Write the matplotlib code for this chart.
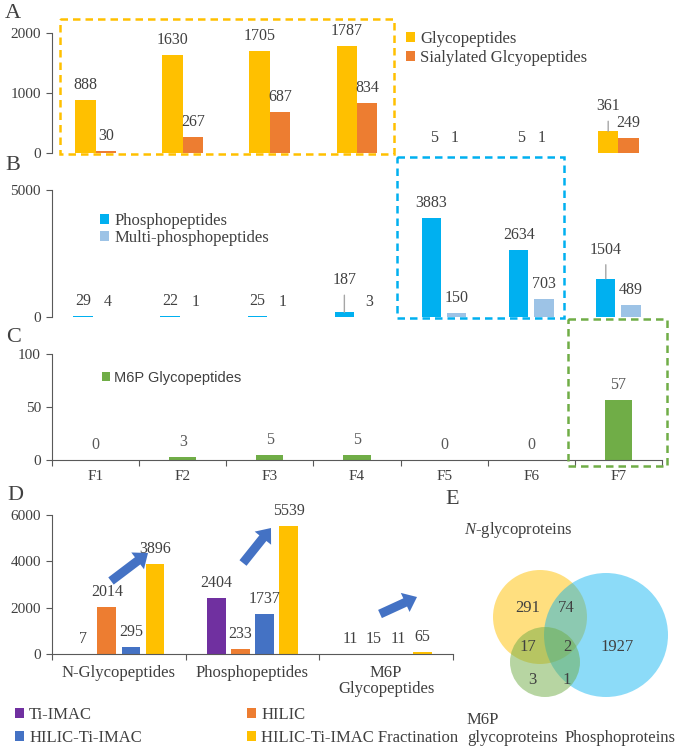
import matplotlib
matplotlib.use("Agg")
import matplotlib.pyplot as plt
import numpy as np
from matplotlib.patches import Rectangle, Circle, FancyArrow

plt.rcParams['font.family'] = ['Liberation Serif', 'DejaVu Serif']
plt.rcParams['mathtext.fontset'] = 'custom'
plt.rcParams['mathtext.rm'] = 'Liberation Serif'
plt.rcParams['mathtext.it'] = 'Liberation Serif:italic'

# ---------------- data ----------------
fractions = ["F1", "F2", "F3", "F4", "F5", "F6", "F7"]
glycopeptides = [888, 1630, 1705, 1787, 5, 5, 361]
sialylated = [30, 267, 687, 834, 1, 1, 249]
phosphopeptides = [29, 22, 25, 187, 3883, 2634, 1504]
multi_phospho = [4, 1, 1, 3, 150, 703, 489]
m6p_glyco = [0, 3, 5, 5, 0, 0, 57]

d_categories = ["N-Glycopeptides", "Phosphopeptides", "M6P\nGlycopeptides"]
d_methods = ["Ti-IMAC", "HILIC", "HILIC-Ti-IMAC", "HILIC-Ti-IMAC Fractination"]
ti_imac = [7, 2404, 11]
hilic = [2014, 233, 15]
hilic_ti_imac = [295, 1737, 11]
hilic_ti_imac_frac = [3896, 5539, 65]

venn_labels = ["291", "74", "17", "2", "1927", "3", "1"]

# ---------------- style ----------------
W, H = 679, 750
C_GLY, C_SIA = "#FFC000", "#ED7D31"
C_PHO, C_MUL = "#00B0F0", "#9DC3E6"
C_M6P = "#70AD47"
C_TI, C_HI, C_HTI, C_FR = "#7030A0", "#ED7D31", "#4472C4", "#FFC000"
AX_C = "#595959"
TXT = "#404040"
FS_TICK = 11
FS_VAL = 11.5
FS_LEG = 12

fig = plt.figure(figsize=(W / 100, H / 100), dpi=100)


def px_axes(x0, y_top, x1, y_bot):
    return fig.add_axes([x0 / W, 1 - y_bot / H, (x1 - x0) / W, (y_bot - y_top) / H])


def style_axes(ax, ymax, yticks, bottom=False):
    ax.set_ylim(0, ymax)
    ax.set_yticks(yticks)
    for s in ["top", "right"]:
        ax.spines[s].set_visible(False)
    ax.spines["left"].set_color(AX_C)
    ax.spines["bottom"].set_color(AX_C)
    ax.spines["bottom"].set_visible(bottom)
    ax.tick_params(axis="y", direction="out", length=4, color=AX_C,
                   labelsize=FS_TICK, labelcolor=TXT, pad=4)
    ax.patch.set_alpha(0)


def label_bars(ax, xs, vals, raised=None, fs=FS_VAL, color=TXT):
    raised = raised or {}
    for i, (x, v) in enumerate(zip(xs, vals)):
        off = raised.get(i, 15)
        if i in raised:
            ax.annotate(str(v), xy=(x, v), xytext=(0, off), textcoords="offset pixels",
                        ha="center", va="center", fontsize=fs, color=color,
                        arrowprops=dict(arrowstyle="-", color="#a6a6a6", lw=1,
                                        shrinkA=3, shrinkB=0))
        else:
            ax.annotate(str(v), xy=(x, v), xytext=(0, off), textcoords="offset pixels",
                        ha="center", va="center", fontsize=fs, color=color)


x = np.arange(len(fractions))

# ---------------- Panel A ----------------
axA = px_axes(52, 33, 662, 153)
wA = 0.235
bA1 = axA.bar(x - wA / 2, glycopeptides, wA, color=C_GLY, label="Glycopeptides")
bA2 = axA.bar(x + wA / 2, sialylated, wA, color=C_SIA, label="Sialylated Glcyopeptides")
axA.set_xlim(-0.5, 6.5)
axA.set_xticks([])
style_axes(axA, 2000, [0, 1000, 2000])
label_bars(axA, x - wA / 2, glycopeptides, raised={6: 25})
label_bars(axA, x + wA / 2, sialylated)
axA.legend(handles=[bA1, bA2], loc="upper left", bbox_to_anchor=(406 / W, 1 - 31 / H),
           bbox_transform=fig.transFigure, frameon=False, fontsize=FS_LEG,
           handlelength=0.55, handleheight=0.55, handletextpad=0.3, labelspacing=0.15,
           borderpad=0, borderaxespad=0, labelcolor=TXT)

# ---------------- Panel B ----------------
axB = px_axes(52, 190, 662, 317)
wB, oB = 0.22, 0.145
bB1 = axB.bar(x - oB, phosphopeptides, wB, color=C_PHO, label="Phosphopeptides")
bB2 = axB.bar(x + oB, multi_phospho, wB, color=C_MUL, label="Multi-phosphopeptides")
axB.set_xlim(-0.5, 6.5)
axB.set_xticks([])
style_axes(axB, 5000, [0, 5000])
label_bars(axB, x - oB, phosphopeptides, raised={3: 32, 6: 29})
label_bars(axB, x + oB, multi_phospho)
axB.legend(handles=[bB1, bB2], loc="upper left", bbox_to_anchor=(100 / W, 1 - 213 / H),
           bbox_transform=fig.transFigure, frameon=False, fontsize=FS_LEG,
           handlelength=0.55, handleheight=0.55, handletextpad=0.3, labelspacing=0.05,
           borderpad=0, borderaxespad=0, labelcolor=TXT)

# ---------------- Panel C ----------------
axC = px_axes(52, 354, 662, 460)
bC = axC.bar(x, m6p_glyco, 0.31, color=C_M6P, label="M6P Glycopeptides")
axC.set_xlim(-0.5, 6.5)
style_axes(axC, 100, [0, 50, 100], bottom=True)
axC.set_xticks(np.arange(-0.5, 7, 1))
axC.set_xticklabels([])
axC.set_xticks(x, minor=True)
axC.set_xticklabels(fractions, minor=True)
axC.tick_params(axis="x", which="major", direction="out", length=4, color=AX_C)
axC.tick_params(axis="x", which="minor", length=0, labelsize=FS_TICK, labelcolor=TXT, pad=7)
label_bars(axC, x, m6p_glyco, color="#595959")
axC.legend(handles=[bC], loc="upper left", bbox_to_anchor=(102 / W, 1 - 371 / H),
           bbox_transform=fig.transFigure, frameon=False,
           prop={"family": "Liberation Sans", "size": 10.5},
           handlelength=0.55, handleheight=0.55, handletextpad=0.3,
           borderpad=0, borderaxespad=0, labelcolor=TXT)

# ---------------- Panel D ----------------
axD = px_axes(52, 515, 453, 654)
xd = np.arange(len(d_categories))
wD, sD = 0.14, 0.18
series_d = [ti_imac, hilic, hilic_ti_imac, hilic_ti_imac_frac]
colors_d = [C_TI, C_HI, C_HTI, C_FR]
handles_d = []
for k, (vals, col, name) in enumerate(zip(series_d, colors_d, d_methods)):
    pos = xd + (k - 1.5) * sD
    b = axD.bar(pos, vals, wD, color=col, label=name)
    handles_d.append(b)
    label_bars(axD, pos, vals)
axD.set_xlim(-0.5, 2.5)
style_axes(axD, 6000, [0, 2000, 4000, 6000], bottom=True)
axD.set_xticks(np.arange(-0.5, 3, 1))
axD.set_xticklabels([])
axD.set_xticks(xd, minor=True)
axD.set_xticklabels(d_categories, minor=True)
axD.tick_params(axis="x", which="major", direction="out", length=4, color=AX_C)
axD.tick_params(axis="x", which="minor", length=0, labelsize=12, labelcolor=TXT, pad=8)
for t in axD.get_xticklabels(minor=True):
    t.set_linespacing(1.0)
# legend filled row-wise: (Ti-IMAC, HILIC) / (HILIC-Ti-IMAC, Fractination)
legend_order = [0, 2, 1, 3]
fig.legend(handles=[handles_d[i] for i in legend_order], loc="upper left",
           bbox_to_anchor=(15 / W, 1 - 707 / H),
           ncol=2, frameon=False, fontsize=FS_LEG, columnspacing=6.3,
           handlelength=0.55, handleheight=0.55, handletextpad=0.3, labelspacing=0.4,
           borderpad=0, borderaxespad=0, labelcolor=TXT)

# ---------------- overlay (boxes, arrows, panel E) ----------------
ov = fig.add_axes([0, 0, 1, 1], zorder=5)
ov.set_xlim(0, W)
ov.set_ylim(H, 0)
ov.axis("off")
ov.patch.set_alpha(0)

for (x0, y0, x1, y1, col) in [(60, 19, 394, 154, C_GLY),
                              (397, 157, 564, 318, C_PHO),
                              (568, 319, 667, 466, C_M6P)]:
    ov.add_patch(Rectangle((x0, y0), x1 - x0, y1 - y0, fill=False, ec=col,
                           lw=1.8, ls=(0, (3, 2))))

for (x0, y0, x1, y1) in [(111, 581, 148, 553), (243, 563, 271, 528), (380, 614, 417, 597)]:
    ov.add_patch(FancyArrow(x0, y0, x1 - x0, y1 - y0, width=9, head_width=21,
                            head_length=13, length_includes_head=True,
                            color="#4472C4", lw=0))

# panel letters
for lab, (lx, ly) in {"A": (13, 13), "B": (13, 165), "C": (14, 338),
                      "D": (15, 495), "E": (452, 499)}.items():
    ov.text(lx, ly, lab, fontsize=16, ha="center", va="center", color=TXT)

# Venn diagram
ov.add_patch(Circle((540, 617), 47, color="#FFC000", alpha=0.5, lw=0))
ov.add_patch(Circle((606, 635), 62, color="#00B0F0", alpha=0.45, lw=0))
ov.add_patch(Circle((545, 662), 35, color="#70AD47", alpha=0.5, lw=0))
venn_pos = [(528, 608), (566, 608), (528, 647), (567, 647), (617, 647), (532, 680), (567, 680)]
for t, (vx, vy) in zip(venn_labels, venn_pos):
    ov.text(vx, vy, t, fontsize=12, ha="center", va="center", color=TXT)
ov.text(464, 530, r"$\it{N}$-glycoproteins", fontsize=12, ha="left", va="center", color=TXT)
ov.text(467, 720, "M6P", fontsize=12, ha="left", va="center", color=TXT)
ov.text(467, 738, "glycoproteins", fontsize=12, ha="left", va="center", color=TXT)
ov.text(676, 738, "Phosphoproteins", fontsize=12, ha="right", va="center", color=TXT)

fig.savefig("out.png", dpi=100)
